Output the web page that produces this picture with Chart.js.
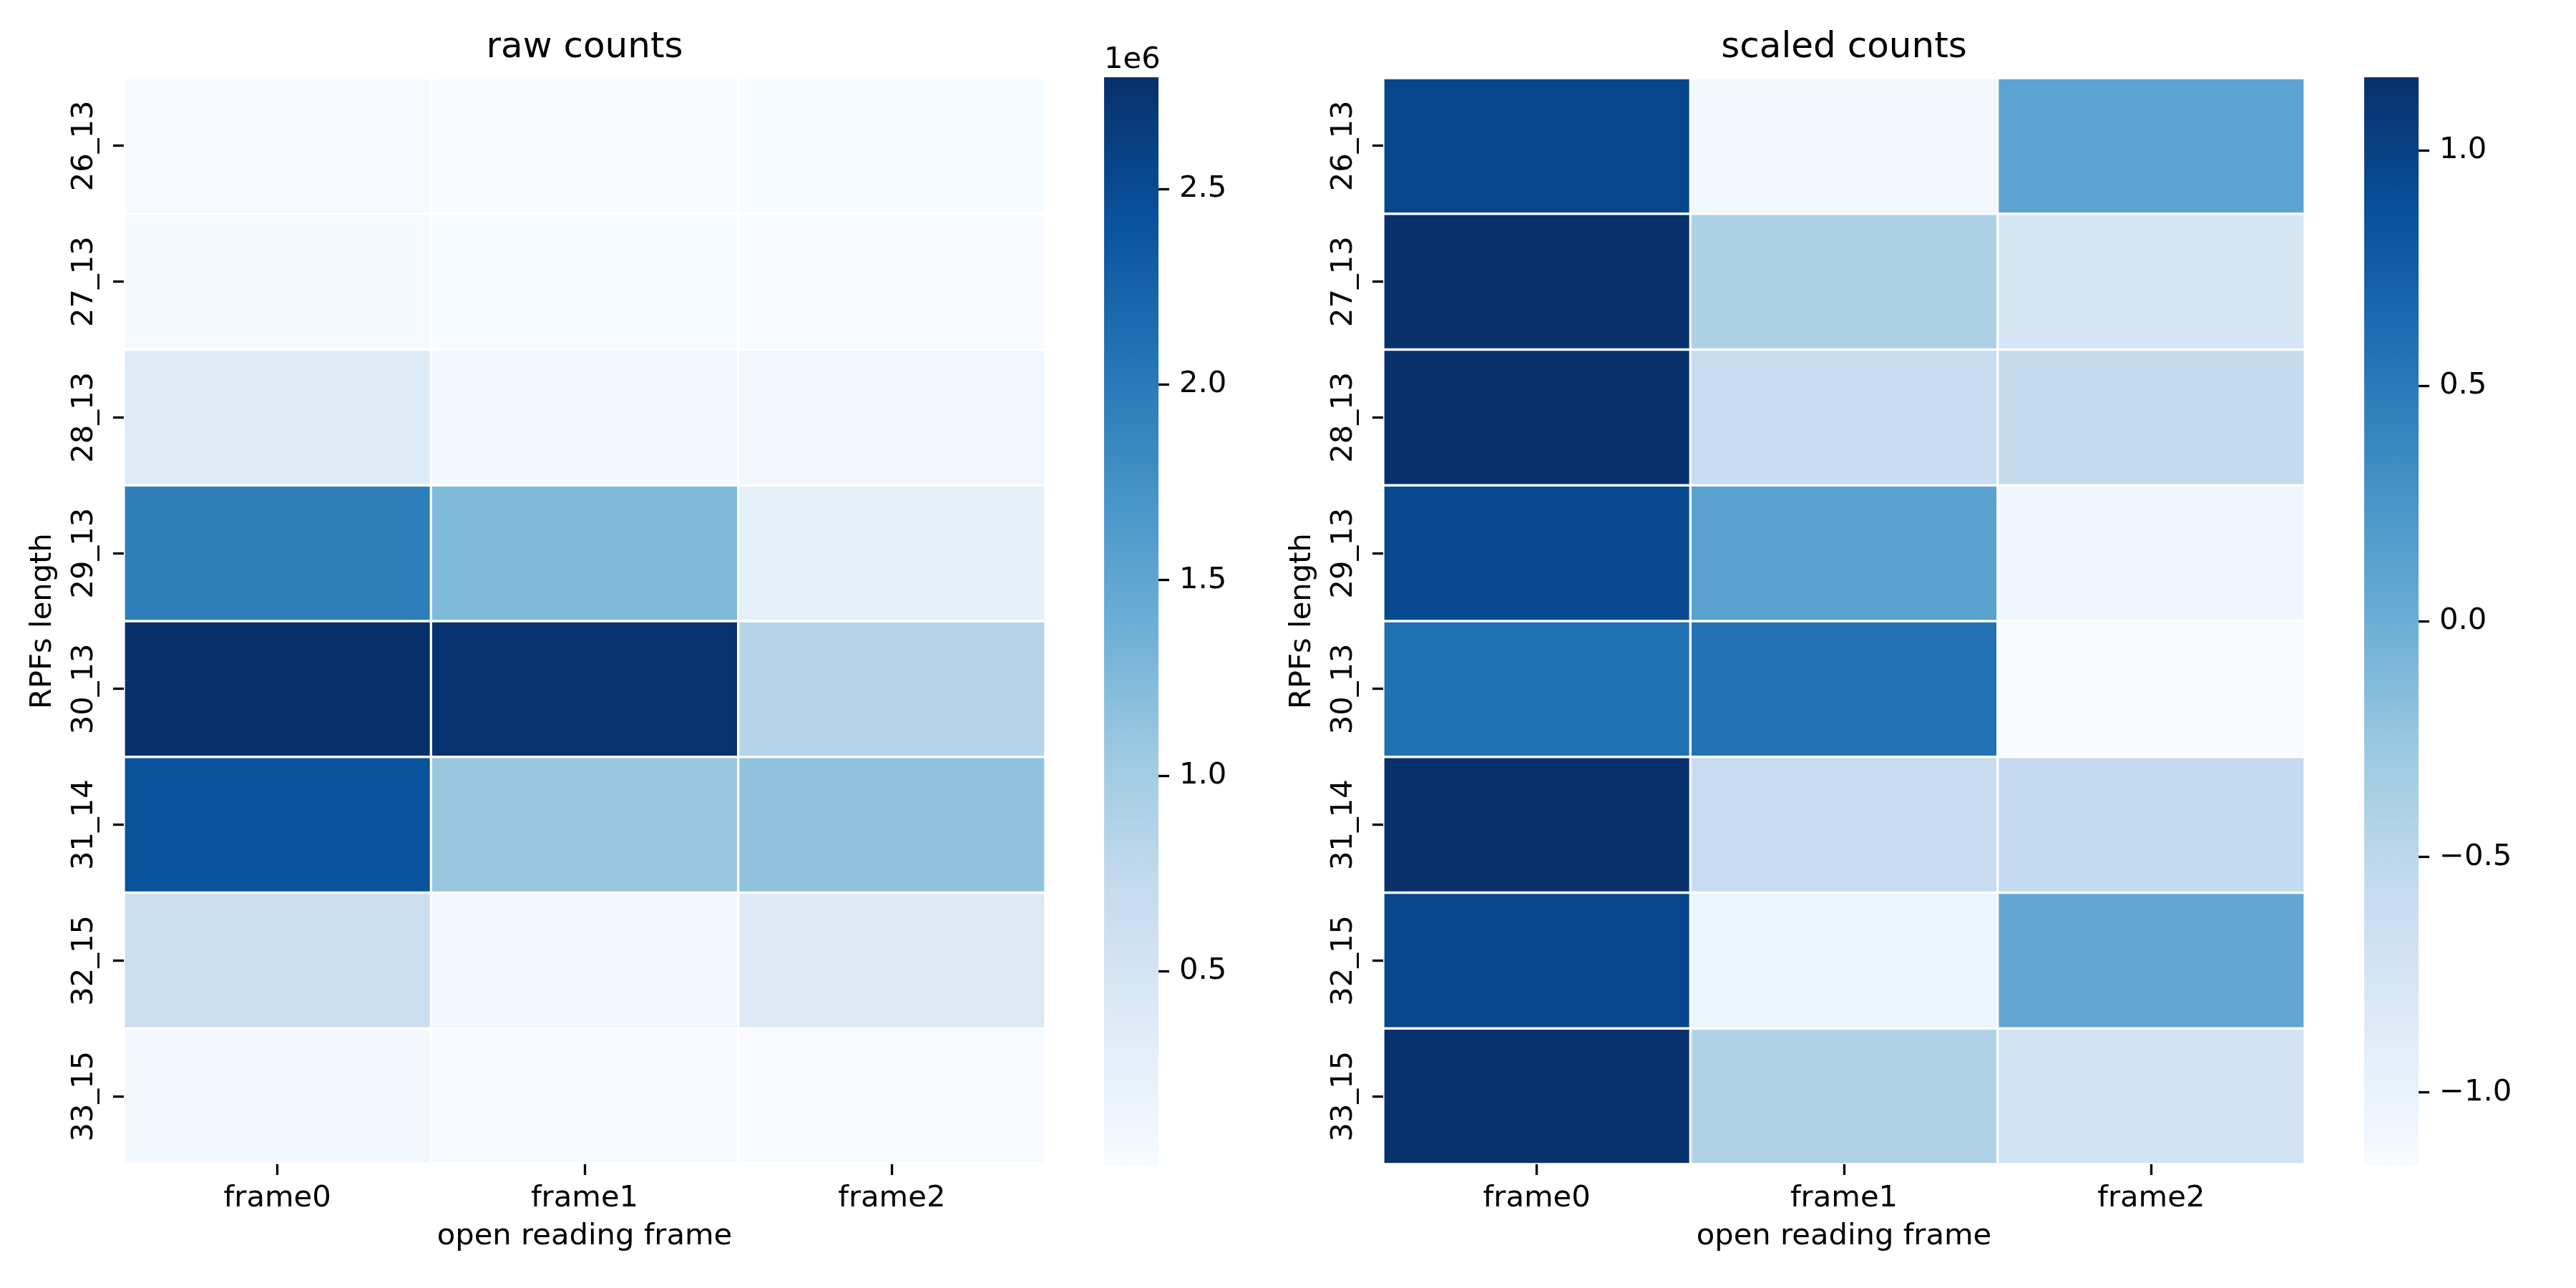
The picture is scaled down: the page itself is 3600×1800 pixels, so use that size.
<!DOCTYPE html>
<html><head><meta charset="utf-8">
<script src="https://cdn.jsdelivr.net/npm/chart.js@4/dist/chart.umd.min.js"></script>
<style>
html,body{margin:0;padding:0;background:#fff;}
#wrap{position:relative;width:3600px;height:1800px;background:#fff;}
canvas{position:absolute;top:0;}
</style></head><body>
<div id="wrap">
<canvas id="rawHeat" width="1500" height="1800" style="left:0px;width:1500px;height:1800px"></canvas>
<canvas id="rawBar" width="250" height="1800" style="left:1543px;width:250px;height:1800px"></canvas>
<canvas id="scHeat" width="1500" height="1800" style="left:1760px;width:1500px;height:1800px"></canvas>
<canvas id="scBar" width="250" height="1800" style="left:3304px;width:250px;height:1800px"></canvas>
</div>
<script>
// ---- data ----
const frames = ['frame0', 'frame1', 'frame2'];
const lengths = ['26_13', '27_13', '28_13', '29_13', '30_13', '31_14', '32_15', '33_15'];
const rawFrame0 = [21000, 38000, 360000, 1950000, 2786000, 2420000, 640000, 62000];
const rawFrame1 = [3000, 13000, 75000, 1260000, 2750000, 1080000, 100000, 15000];
const rawFrame2 = [13500, 7500, 80000, 250000, 850000, 1140000, 380000, 6000];
const scaledFrame0 = [0.96, 1.155, 1.15, 0.94, 0.59, 1.15, 0.96, 1.14];
const scaledFrame1 = [-1.08, -0.39, -0.59, 0.13, 0.57, -0.60, -1.03, -0.42];
const scaledFrame2 = [0.11, -0.76, -0.565, -1.07, -1.155, -0.55, 0.07, -0.72];
const rawTicks = [500000, 1000000, 1500000, 2000000, 2500000];
const scaledTicks = [-1.0, -0.5, 0.0, 0.5, 1.0];

// ---- style ----
const FAMILY = '"DejaVu Sans"';
const TICK_SIZE = 41.7;
const TITLE_SIZE = 50;
Chart.defaults.font.family = FAMILY;
Chart.defaults.color = '#000';

const BLUES = [[247,251,255],[222,235,247],[198,219,239],[158,202,225],[107,174,214],[66,146,198],[33,113,181],[8,81,156],[8,48,107]];
function blues(t) {
  t = Math.max(0, Math.min(1, t));
  const p = t * 8;
  const i = Math.min(7, Math.floor(p));
  const f = p - i;
  const a = BLUES[i], b = BLUES[i + 1];
  const c = [0, 1, 2].map(k => Math.round(a[k] + (b[k] - a[k]) * f));
  return 'rgb(' + c.join(',') + ')';
}

const panelDecor = {
  id: 'panelDecor',
  afterDraw(chart, args, opts) {
    const {ctx, chartArea} = chart;
    ctx.save();
    ctx.fillStyle = '#000';
    ctx.textAlign = 'center';
    ctx.textBaseline = 'middle';
    ctx.font = TITLE_SIZE + 'px ' + FAMILY;
    ctx.fillText(opts.text, (chartArea.left + chartArea.right) / 2, 67);
    const ys = chart.scales.y;
    ctx.font = TICK_SIZE + 'px ' + FAMILY;
    ys.ticks.forEach((t, i) => {
      const py = ys.getPixelForValue(t.value);
      ctx.save();
      ctx.translate(ys.right - 55, py);
      ctx.rotate(-Math.PI / 2);
      ctx.fillText(lengths[i], 0, 0);
      ctx.restore();
    });
    ctx.restore();
  }
};

const cbarFill = {
  id: 'cbarFill',
  beforeDatasetsDraw(chart, args, opts) {
    const {ctx, chartArea: a} = chart;
    ctx.save();
    const g = ctx.createLinearGradient(0, a.bottom, 0, a.top);
    BLUES.forEach((c, i) => g.addColorStop(i / 8, 'rgb(' + c.join(',') + ')'));
    ctx.fillStyle = g;
    ctx.fillRect(a.left, a.top, a.right - a.left, a.bottom - a.top);
    if (opts.offsetText) {
      ctx.fillStyle = '#000';
      ctx.font = TICK_SIZE + 'px ' + FAMILY;
      ctx.textAlign = 'left';
      ctx.textBaseline = 'alphabetic';
      ctx.fillText(opts.offsetText, a.left, a.top - 13);
    }
    ctx.restore();
  }
};

function heatmap(id, cols, title) {
  const all = cols.flat();
  const vmin = Math.min(...all), vmax = Math.max(...all);
  const datasets = lengths.map((name, r) => ({
    label: name,
    data: frames.map((f, c) => ({x: f, y: [r, r + 1]})),
    backgroundColor: frames.map((f, c) => blues((cols[c][r] - vmin) / (vmax - vmin))),
    borderColor: '#ffffff',
    borderWidth: 2,
    borderSkipped: false,
    barPercentage: 1,
    categoryPercentage: 1,
    grouped: false
  }));
  new Chart(document.getElementById(id), {
    type: 'bar',
    data: {labels: frames, datasets},
    options: {
      responsive: false,
      animation: false,
      devicePixelRatio: 1,
      layout: {padding: {top: 109, right: 39, left: 0, bottom: 0}},
      plugins: {legend: {display: false}, tooltip: {enabled: false}, panelDecor: {text: title}},
      scales: {
        x: {
          type: 'category',
          offset: true,
          grid: {display: true, drawOnChartArea: false, drawTicks: true, tickLength: 15, tickWidth: 3.3, tickColor: '#000', offset: false},
          border: {display: false},
          ticks: {color: '#000', font: {size: TICK_SIZE}, padding: 8, maxRotation: 0, minRotation: 0},
          title: {display: true, text: 'open reading frame', color: '#000', font: {size: TICK_SIZE}, padding: {top: 0, bottom: 47}},
          afterFit: s => { s.height = 173; }
        },
        y: {
          type: 'linear',
          min: 0, max: lengths.length,
          reverse: true,
          bounds: 'data',
          afterBuildTicks: s => { s.ticks = lengths.map((_, i) => ({value: i + 0.5})); },
          grid: {display: true, drawOnChartArea: false, drawTicks: true, tickLength: 15, tickWidth: 3.3, tickColor: '#000'},
          border: {display: false},
          ticks: {display: false},
          title: {display: true, text: 'RPFs length', color: '#000', font: {size: TICK_SIZE}, padding: {top: 35, bottom: 0}},
          afterFit: s => { s.width = 173; }
        }
      }
    },
    plugins: [panelDecor]
  });
}

function colorbar(id, cols, tickVals, fmt, offsetText) {
  const all = cols.flat();
  const vmin = Math.min(...all), vmax = Math.max(...all);
  new Chart(document.getElementById(id), {
    type: 'bar',
    data: {labels: [''], datasets: []},
    options: {
      responsive: false,
      animation: false,
      devicePixelRatio: 1,
      layout: {padding: {top: 108, bottom: 171, left: 0, right: 0}},
      plugins: {legend: {display: false}, tooltip: {enabled: false}, cbarFill: {offsetText}},
      scales: {
        x: {display: false},
        y: {
          type: 'linear',
          position: 'right',
          min: vmin, max: vmax,
          bounds: 'data',
          afterBuildTicks: s => { s.ticks = tickVals.map(v => ({value: v})); },
          ticks: {callback: v => fmt(v), color: '#000', font: {size: TICK_SIZE}, padding: 14},
          grid: {display: true, drawOnChartArea: false, drawTicks: true, tickLength: 15, tickWidth: 3.3, tickColor: '#000'},
          border: {display: false},
          afterFit: s => { s.width = 174; }
        }
      }
    },
    plugins: [cbarFill]
  });
}

const rawCols = [rawFrame0, rawFrame1, rawFrame2];
const scaledCols = [scaledFrame0, scaledFrame1, scaledFrame2];
heatmap('rawHeat', rawCols, 'raw counts');
colorbar('rawBar', rawCols, rawTicks, v => (v / 1e6).toFixed(1), '1e6');
heatmap('scHeat', scaledCols, 'scaled counts');
colorbar('scBar', scaledCols, scaledTicks, v => (Math.abs(v) < 1e-9 ? '0.0' : v.toFixed(1).replace('-', '\u2212')), '');
</script>
</body></html>
